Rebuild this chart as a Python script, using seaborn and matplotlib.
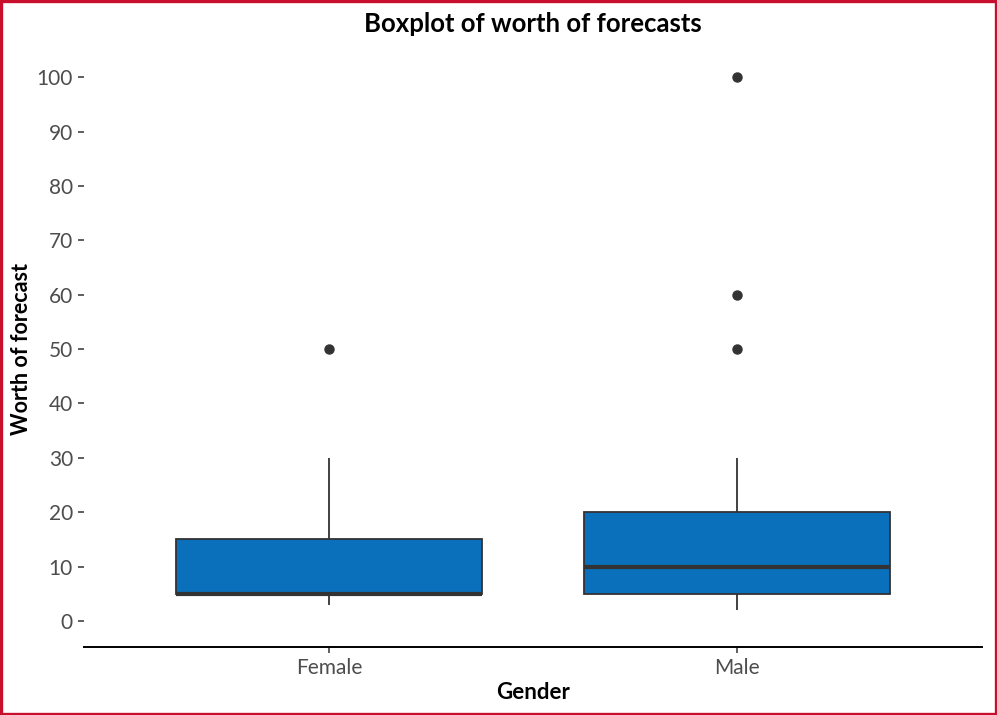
import numpy as np
import pandas as pd
import matplotlib
matplotlib.use("Agg")
import matplotlib.pyplot as plt
import seaborn as sns
from matplotlib.patches import Rectangle

# Survey responses: how much respondents think a forecast is worth
female_worth = [3, 5, 5, 5, 5, 5, 5, 10, 10, 15, 20, 30, 50]
male_worth = [2, 4, 5, 5, 5, 8, 10, 10, 10, 15, 15, 20, 20, 30, 50, 60, 100]
genders = ["Female", "Male"]
y_ticks = list(range(0, 101, 10))

df = pd.DataFrame({
    "Gender": ["Female"] * len(female_worth) + ["Male"] * len(male_worth),
    "Worth": female_worth + male_worth,
})

sns.set_style("white")
plt.rcParams["font.family"] = ["Lato", "DejaVu Sans"]

fig = plt.figure(figsize=(9.97, 7.15), dpi=100)
ax = fig.add_axes([0.0843, 0.0951, 0.9007, 0.8349])

dark = "#333333"
sns.boxplot(
    data=df, x="Gender", y="Worth", order=genders, ax=ax,
    color="#0B70BB", saturation=1, width=0.75, showcaps=False,
    boxprops=dict(edgecolor=dark, linewidth=1.3),
    whiskerprops=dict(color=dark, linewidth=1.3),
    medianprops=dict(color=dark, linewidth=3),
    flierprops=dict(marker="o", markerfacecolor=dark, markeredgecolor=dark,
                    markersize=6.5),
)

ax.set_xlim(-0.6, 1.6)
ax.set_ylim(-4.8, 105)
ax.set_yticks(y_ticks)
ax.set_yticklabels([str(t) for t in y_ticks])

for side in ["left", "right", "top"]:
    ax.spines[side].set_visible(False)
ax.spines["bottom"].set_color("black")
ax.spines["bottom"].set_linewidth(1.4)

ax.tick_params(axis="both", which="both", left=True, bottom=True,
               width=1.1, color="#333333", labelcolor="#4D4D4D", labelsize=15)
ax.tick_params(axis="y", length=4, pad=4)
ax.tick_params(axis="x", length=4, pad=4)

ax.set_xlabel("Gender", fontsize=16, fontweight="bold", color="black", labelpad=3)
ax.set_ylabel("Worth of forecast", fontsize=15.5, fontweight="bold", color="black", labelpad=3)
ax.set_title("Boxplot of worth of forecasts", fontsize=18.5, fontweight="bold",
             color="black", pad=13)

# red frame around the whole figure
fig.patches.append(Rectangle((0.0015, 0.002), 0.997, 0.996, transform=fig.transFigure,
                             fill=False, edgecolor="#C8102E", linewidth=2.4))

fig.savefig("out.png", dpi=100)
